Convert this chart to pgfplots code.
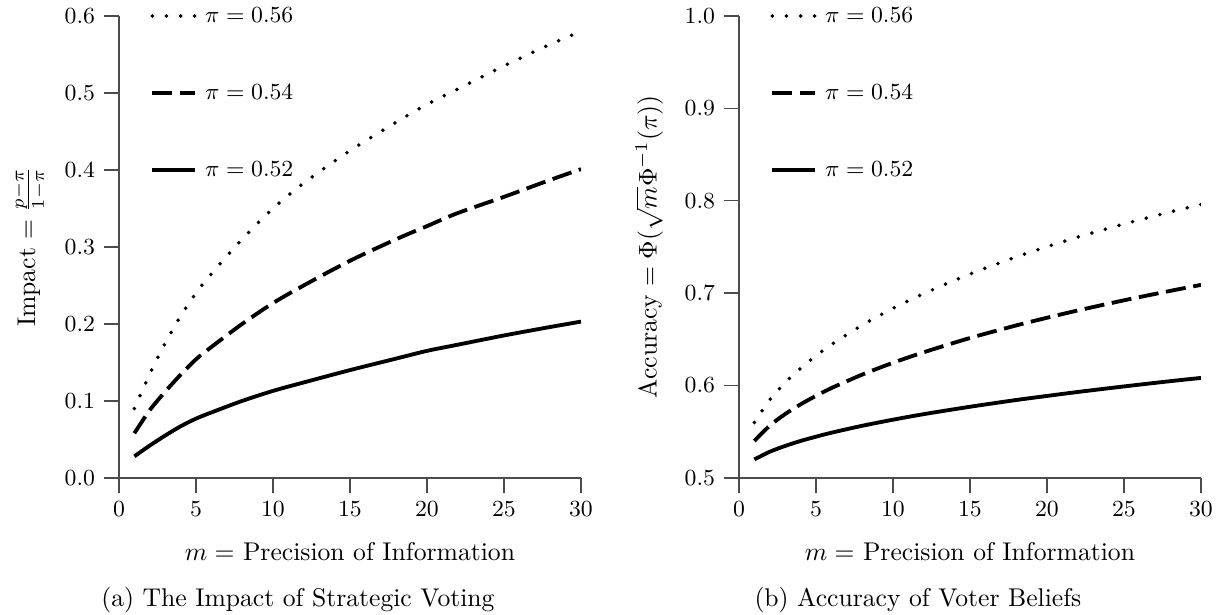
\documentclass[border=0pt]{standalone}
\usepackage{pgfplots}
\pgfplotsset{compat=1.18}

% precision m, one column per prior pi
\pgfplotstableread{
m    i52    i54    i56
1    0.028  0.058  0.090
2    0.042  0.088  0.135
3    0.055  0.112  0.175
4    0.067  0.134  0.210
5    0.077  0.154  0.240
6    0.085  0.170  0.265
8    0.100  0.200  0.310
10   0.113  0.227  0.350
12   0.124  0.250  0.383
15   0.140  0.282  0.425
18   0.155  0.310  0.462
20   0.165  0.327  0.485
22   0.173  0.344  0.505
25   0.185  0.365  0.535
28   0.196  0.387  0.563
30   0.203  0.401  0.580
}\impact

\pgfplotstableread{
m    a52    a54    a56
1    0.5200 0.5400 0.5600
2    0.5283 0.5565 0.5845
3    0.5346 0.5691 0.6031
4    0.5400 0.5796 0.6186
5    0.5446 0.5888 0.6322
6    0.5489 0.5972 0.6442
8    0.5564 0.6118 0.6653
10   0.5630 0.6246 0.6835
12   0.5690 0.6360 0.6995
15   0.5770 0.6514 0.7206
18   0.5843 0.6650 0.7391
20   0.5887 0.6733 0.7502
22   0.5930 0.6812 0.7606
25   0.5990 0.6922 0.7748
28   0.6047 0.7024 0.7878
30   0.6082 0.7089 0.7959
}\accuracy

\pgfplotsset{
  panel/.style={
    scale only axis, width=180.2pt, height=180.2pt,
    axis x line=bottom, axis y line=left,
    axis line style={-, line width=0.6pt, black!70},
    every tick/.style={line width=0.6pt, black!70},
    tick align=outside, major tick length=5.8pt,
    xmin=0, xmax=30, xtick={0,5,10,15,20,25,30},
    tick label style={font=\fontsize{9}{11}\selectfont},
    label style={font=\fontsize{9}{11}\selectfont},
    yticklabel style={/pgf/number format/.cd, fixed, fixed zerofill, precision=1},
    xlabel={$m=$ Precision of Information},
    every axis x label/.style={at={(axis description cs:0.5,-0.16)}, anchor=center},
    every axis y label/.style={at={(axis description cs:-0.194,0.5)}, rotate=90, anchor=center},
    legend style={draw=none, fill=none, inner sep=0pt, outer sep=0pt,
      at={(axis description cs:0.068,1.022)}, anchor=north west,
      font=\fontsize{9}{11}\selectfont,
      nodes={inner sep=0pt, text height=6.5pt, text depth=1.5pt},
      column sep=3pt, row sep=22pt},
    legend cell align=left,
    legend image code/.code={\draw[##1] (0pt,0pt) -- (16.8pt,0pt);},
  },
  pdot/.style={black, line width=1.55pt, line cap=round, dash pattern=on 0pt off 5.5pt},
  pdash/.style={black, line width=1.5pt, dash pattern=on 7.8pt off 3pt},
  psolid/.style={black, line width=1.5pt},
}

\begin{document}
\begin{tikzpicture}
\useasboundingbox (-46.4pt,-53.4pt) rectangle (430.2pt,186.4pt);

\begin{axis}[panel, at={(0pt,0pt)},
  ymin=0, ymax=0.6, ytick={0,0.1,0.2,0.3,0.4,0.5,0.6},
  ylabel={Impact $=\frac{p-\pi}{1-\pi}$}]
\addplot[pdot, smooth] table[x=m, y=i56] {\impact};
\addlegendentry{$\pi=0.56$}
\addplot[pdash, smooth] table[x=m, y=i54] {\impact};
\addlegendentry{$\pi=0.54$}
\addplot[psolid, smooth] table[x=m, y=i52] {\impact};
\addlegendentry{$\pi=0.52$}
\end{axis}

\begin{axis}[panel, at={(241.8pt,0pt)},
  ymin=0.5, ymax=1.0, ytick={0.5,0.6,0.7,0.8,0.9,1.0},
  ylabel={Accuracy $=\Phi(\sqrt{m}\Phi^{-1}(\pi))$}]
\addplot[pdot, smooth] table[x=m, y=a56] {\accuracy};
\addlegendentry{$\pi=0.56$}
\addplot[pdash, smooth] table[x=m, y=a54] {\accuracy};
\addlegendentry{$\pi=0.54$}
\addplot[psolid, smooth] table[x=m, y=a52] {\accuracy};
\addlegendentry{$\pi=0.52$}
\end{axis}

\node[anchor=base, font=\fontsize{10}{12}\selectfont] at (69.8pt,-50.3pt) {(a) The Impact of Strategic Voting};
\node[anchor=base, font=\fontsize{10}{12}\selectfont] at (311.6pt,-50.3pt) {(b) Accuracy of Voter Beliefs};
\end{tikzpicture}
\end{document}
